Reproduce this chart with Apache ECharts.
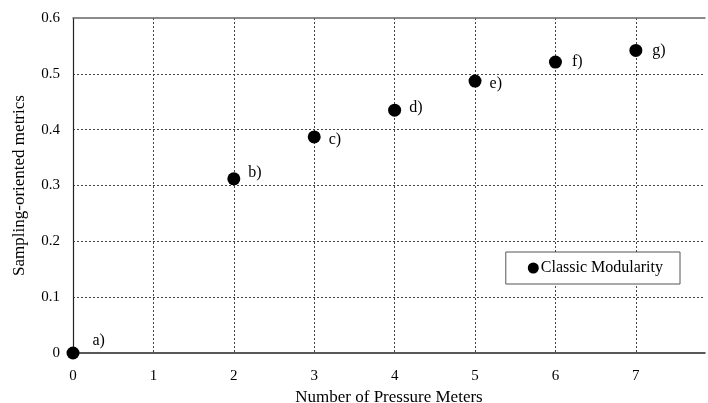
<!DOCTYPE html>
<html><head><meta charset="utf-8">
<script src="https://cdn.jsdelivr.net/npm/echarts@6/dist/echarts.min.js"></script>
<style>html,body{margin:0;padding:0;background:#fff}#c{width:708px;height:403px}</style>
</head><body><div id="c"></div>
<script>
const meters = [0, 2, 3, 4, 5, 6, 7];
const values = [0, 0.312, 0.387, 0.435, 0.487, 0.521, 0.542];
const labels = ['a)', 'b)', 'c)', 'd)', 'e)', 'f)', 'g)'];
const seriesName = 'Classic Modularity';
const xTitle = 'Number of Pressure Meters';
const yTitle = 'Sampling-oriented metrics';

// label placement nudges (style only, pixels)
const labelNudge = [[5, -12], [0, -6], [0, 3], [0, -2], [0, 3], [2, 0], [2, 0]];

const FONT = '"Liberation Serif", "DejaVu Serif", serif';
const chart = echarts.init(document.getElementById('c'), null, {renderer: 'canvas'});
const data = meters.map((m, i) => ({
  value: [m, values[i]],
  label: {formatter: labels[i], offset: labelNudge[i]}
}));
chart.setOption({
  animation: false,
  textStyle: {fontFamily: FONT},
  grid: {left: 73, right: 3, top: 18, bottom: 50, containLabel: false, outerBoundsMode: 'none'},
  legend: {
    data: [seriesName], right: 28, top: 252, orient: 'horizontal',
    backgroundColor: '#fff', borderColor: '#555', borderWidth: 1,
    padding: [8, 17, 8, 22], itemWidth: 11, itemHeight: 11, itemGap: 4,
    icon: 'circle',
    itemStyle: {color: '#000', opacity: 1},
    textStyle: {fontFamily: FONT, fontSize: 16, color: '#000', padding: [0, 0, 0, -3]}
  },
  xAxis: [{
    type: 'value', min: 0, max: 7.86, interval: 1,
    name: xTitle, nameLocation: 'middle', nameGap: 33,
    nameTextStyle: {fontFamily: FONT, fontSize: 17, color: '#000'},
    axisLine: {lineStyle: {color: '#222', width: 1.5}},
    axisTick: {show: false},
    axisLabel: {fontFamily: FONT, fontSize: 15, color: '#000', margin: 16,
      formatter: v => (v > 7.5 ? '' : String(v))},
    splitLine: {show: true, showMinLine: false, showMaxLine: false,
      lineStyle: {color: '#444', type: [2, 2], width: 1}}
  }, {
    type: 'value', position: 'top', min: 0, max: 7.86,
    axisLine: {show: true, lineStyle: {color: '#666', width: 1.5}},
    axisTick: {show: false}, axisLabel: {show: false}, splitLine: {show: false}
  }],
  yAxis: {
    type: 'value', min: 0, max: 0.6, interval: 0.1,
    name: yTitle, nameLocation: 'middle', nameGap: 45,
    nameTextStyle: {fontFamily: FONT, fontSize: 17, color: '#000'},
    axisLine: {show: true, lineStyle: {color: '#222', width: 1.2}},
    axisTick: {show: false},
    axisLabel: {fontFamily: FONT, fontSize: 15, color: '#000', margin: 13,
      formatter: v => (v === 0 ? '0' : v.toFixed(1))},
    splitLine: {show: true, showMinLine: false, showMaxLine: false,
      lineStyle: {color: '#444', type: [2, 2], width: 1}}
  },
  series: [{
    name: seriesName, type: 'scatter', symbol: 'circle', symbolSize: 13,
    itemStyle: {color: '#000', opacity: 1},
    label: {show: true, position: 'right', distance: 8,
      fontFamily: FONT, fontSize: 16, color: '#000'},
    data: data, z: 5
  }]
});
</script></body></html>
